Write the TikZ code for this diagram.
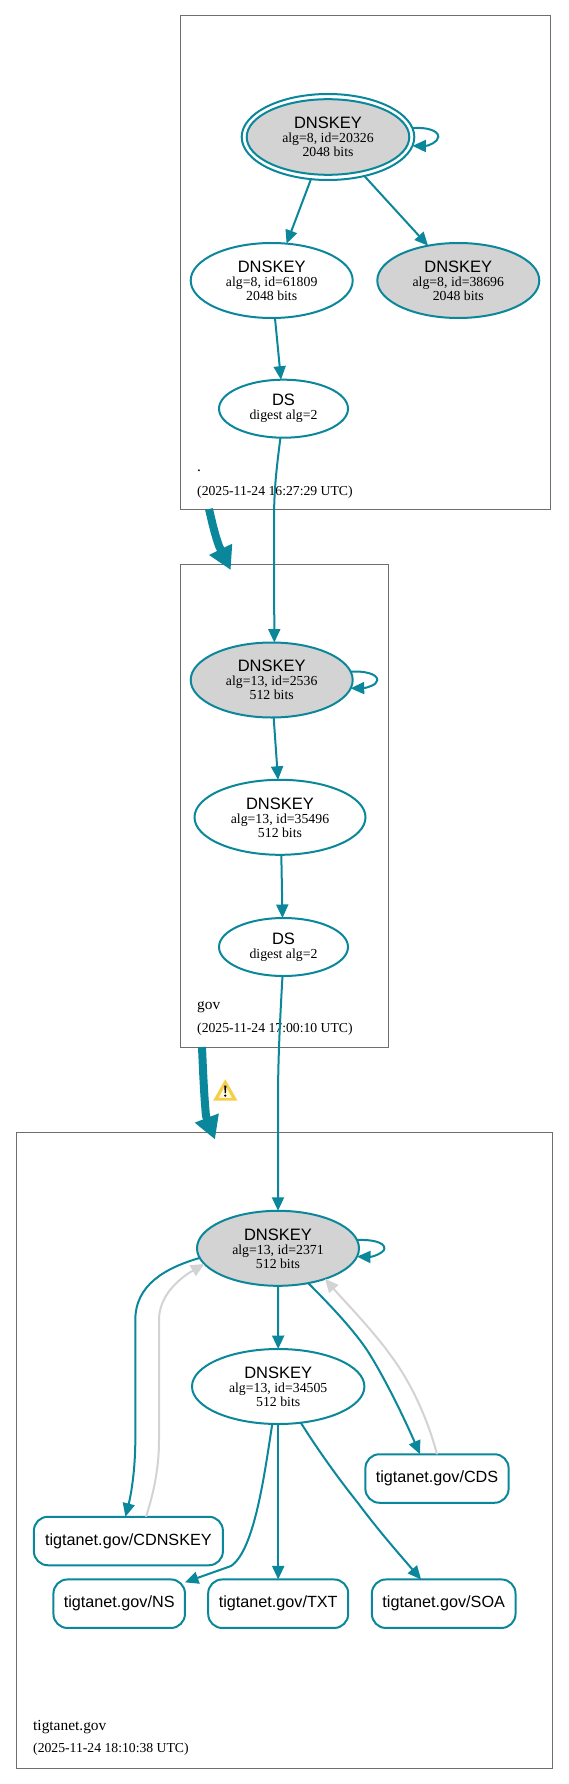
\documentclass[tikz,border=0pt]{standalone}
\usepackage{fontspec}
\setmainfont{Liberation Serif}
\newfontfamily\helv{Liberation Sans}
\usetikzlibrary{arrows.meta,shapes.geometric,calc}
\definecolor{teal}{HTML}{0A879A}
\definecolor{lgray}{HTML}{D3D3D3}
\definecolor{boxline}{HTML}{6E6E6E}
\definecolor{warnyellow}{HTML}{F6CE4A}
\definecolor{warninner}{HTML}{FFF9D8}
\newcommand{\keytext}[2]{{\helv\fontsize{16.5}{14}\selectfont DNSKEY}\\#1\\#2}
\newcommand{\dstext}[1]{{\helv\fontsize{16.5}{14}\selectfont DS}\\#1}
\tikzset{
  x=1pt,y=-1pt,
  keynode/.style={ellipse,draw=teal,line width=2pt,inner sep=0pt,outer sep=0pt,align=center,
    font=\fontsize{13.8}{14}\selectfont,text=black,minimum width=162pt,minimum height=75pt},
  widekey/.style={keynode,minimum width=171pt},
  dsnode/.style={keynode,minimum width=129pt,minimum height=58pt},
  filled/.style={fill=lgray},
  rrnode/.style={rectangle,rounded corners=14pt,draw=teal,line width=2pt,inner sep=0pt,outer sep=0pt,
    font=\helv\fontsize{16.2}{18}\selectfont,text=black,minimum height=48.5pt},
  zonebox/.style={rectangle,draw=boxline,line width=1pt,inner sep=0pt,outer sep=0pt},
  zonename/.style={anchor=base west,inner sep=0pt,font=\fontsize{15.4}{16}\selectfont,text=black},
  zonedate/.style={anchor=base west,inner sep=0pt,font=\fontsize{13.7}{15}\selectfont,text=black},
  edge/.style={draw=teal,line width=2pt,-{Triangle[length=13.5pt,width=12pt]}},
  grayedge/.style={draw=lgray,line width=2pt,-{Triangle[length=13.5pt,width=12pt]}},
  zoneedge/.style={draw=teal,line width=8pt,-{Triangle[length=23pt,width=24pt]}},
}
\begin{document}
\begin{tikzpicture}
\useasboundingbox (0,0) rectangle (568,1784);
% zones
\node[zonebox,minimum width=370pt,minimum height=493pt] (rootbox) at (365,262.5) {};
\node[zonebox,minimum width=208pt,minimum height=482.5pt] (govbox) at (284,805.75) {};
\node[zonebox,minimum width=536pt,minimum height=635.5pt] (tigbox) at (284,1450.25) {};
\node[zonename] (rootname) at (197,471) {.};
\node[zonedate] (rootdate) at (197,495) {(2025-11-24 16:27:29 UTC)};
\node[zonename] (govname) at (197,1009.5) {gov};
\node[zonedate] (govdate) at (197,1032.5) {(2025-11-24 17:00:10 UTC)};
\node[zonename] (tigname) at (33,1730) {tigtanet.gov};
\node[zonedate] (tigdate) at (33,1752.7) {(2025-11-24 18:10:38 UTC)};
% root
\node[keynode,widekey,minimum width=172.6pt,minimum height=86pt] (rootksk) at (328,137) {};
\node[keynode,filled,minimum width=162.6pt,minimum height=75.6pt] (rootkskin) at (328,137) {\keytext{alg=8, id=20326}{2048 bits}};
\node[keynode] (rootzsk) at (271.7,280.5) {\keytext{alg=8, id=61809}{2048 bits}};
\node[keynode,filled] (rootother) at (458.3,280.5) {\keytext{alg=8, id=38696}{2048 bits}};
\node[dsnode] (rootds) at (283.5,408.7) {\dstext{digest alg=2}};
% gov
\node[keynode,filled] (govksk) at (271.7,680) {\keytext{alg=13, id=2536}{512 bits}};
\node[widekey] (govzsk) at (280,817.3) {\keytext{alg=13, id=35496}{512 bits}};
\node[dsnode] (govds) at (283.5,947) {\dstext{digest alg=2}};
% tigtanet
\node[keynode,filled] (tigksk) at (278,1248.3) {\keytext{alg=13, id=2371}{512 bits}};
\node[widekey,minimum width=172.4pt] (tigzsk) at (278.2,1386.5) {\keytext{alg=13, id=34505}{512 bits}};
\node[rrnode,minimum width=143.2pt] (cds) at (437,1478.5) {tigtanet.gov/CDS};
\node[rrnode,minimum width=189pt] (cdnskey) at (128.4,1541) {tigtanet.gov/CDNSKEY};
\node[rrnode,minimum width=131.5pt] (ns) at (119.2,1603.7) {tigtanet.gov/NS};
\node[rrnode,minimum width=140pt] (txt) at (278.2,1603.7) {tigtanet.gov/TXT};
\node[rrnode,minimum width=143.6pt] (soa) at (443.7,1603.7) {tigtanet.gov/SOA};
% zone edges
\draw[zoneedge] ([xshift=29pt]rootbox.south west) .. controls (212,522) and (215,535) .. (219,546) -- ([xshift=50.7pt,yshift=-5.5pt]govbox.north west);
\draw[zoneedge] ([xshift=22pt]govbox.south west) .. controls (203,1070) and (204,1095) .. (206,1116) -- ([xshift=199pt,yshift=-7pt]tigbox.north west);
% root edges
\draw[edge] (rootksk.6.8) .. controls (425,127) and (438.3,130) .. (438.3,136.7) .. controls (438.3,142) and (428,146) .. (rootksk.-6.6);
\draw[edge] (rootksk.248) -- (rootzsk.68.4);
\draw[edge] (rootksk.-47.6) -- (rootother.131.7);
\draw[edge] (rootzsk.-85) -- (rootds.95);
\draw[edge] (rootds.-96.9) .. controls (276.5,468) and (274,490) .. (274,520) -- (govksk.86.5);
% gov edges
\draw[edge] (govksk.6.8) .. controls (363,670.7) and (377.3,673.5) .. (377.3,680) .. controls (377.3,685) and (366,688) .. (govksk.-6.6);
\draw[edge] (govksk.-87.7) -- (govzsk.93.4);
\draw[edge] (govzsk.-88.5) -- (govds.92.4);
\draw[edge] (govds.-92.4) .. controls (280,1020) and (278,1060) .. (278,1100) -- (tigksk.north);
% tigtanet edges
\draw[grayedge] (cdnskey.54.5) .. controls (153,1495) and (159,1470) .. (159,1440) -- (159,1320) .. controls (159,1295) and (180,1278) .. (tigksk.192.6);
\draw[grayedge] (cds.north) .. controls (428,1420) and (413,1388) .. (397.5,1365) .. controls (376,1333) and (345,1302) .. (tigksk.-33.9);
\draw[edge] (tigksk.6.4) .. controls (371,1239.3) and (384.4,1242) .. (384.4,1248.3) .. controls (384.4,1253) and (372,1257) .. (tigksk.-6.6);
\draw[edge] (tigksk.187.8) .. controls (165,1268) and (135.3,1285) .. (135.3,1320) -- (135.3,1440) .. controls (135.3,1470) and (131,1495) .. (cdnskey.97.3);
\draw[edge] (tigksk.south) -- (tigzsk.north);
\draw[edge] (tigksk.-49.6) .. controls (330,1305) and (352,1328) .. (367,1350) .. controls (385,1378) and (405,1420) .. (cds.125.4);
\draw[edge] (tigzsk.-99.4) .. controls (265,1470) and (255,1550) .. (231,1566) -- (ns.18.2);
\draw[edge] (tigzsk.south) -- (txt.north);
\draw[edge] (tigzsk.-58.2) .. controls (318,1450) and (338,1478) .. (358,1503) .. controls (378,1530) and (400,1555) .. (soa.133.4);
% warning sign
\fill[warnyellow] (225.3,1079.3) -- (237.5,1100.7) -- (213.1,1100.7) -- cycle;
\fill[warninner] (225.3,1085) -- (231.8,1097.8) -- (218.8,1097.8) -- cycle;
\fill[black] (224.2,1085.5) -- (226.4,1085.5) -- (225.9,1093) -- (224.7,1093) -- cycle;
\fill[black] (225.3,1095.6) circle (1.2);
\end{tikzpicture}
\end{document}
